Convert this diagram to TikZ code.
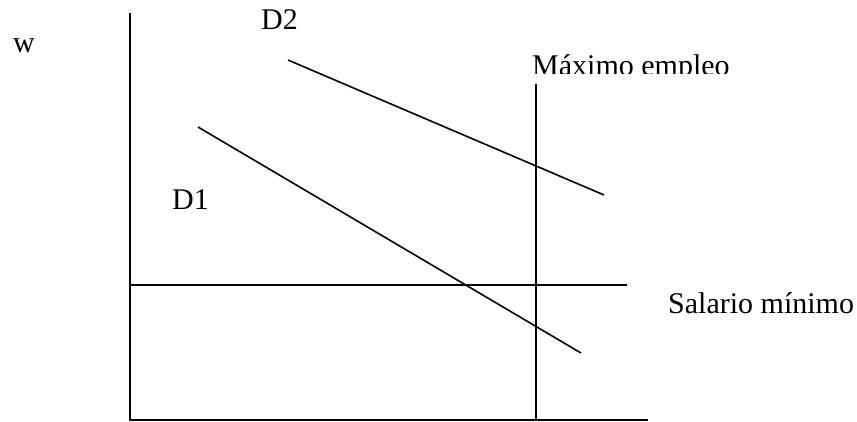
\documentclass[tikz,border=0pt]{standalone}
\usepackage{fontspec}
\setmainfont{Liberation Serif}
\begin{document}
\begin{tikzpicture}[x=1pt,y=-1pt,
  lbl/.style={anchor=base west,inner sep=0pt,font=\fontsize{30}{36}\selectfont},
  ln/.style={line width=1.6pt,black}]
\useasboundingbox (0,0) rectangle (857,421);
% axes
\coordinate (ytop) at (130,13);
\coordinate (orig) at (130,420);
\coordinate (xend) at (648,420);
\draw[ln] (ytop) -- (orig) -- (xend);
% minimum wage
\coordinate (sw1) at (130,285);
\coordinate (sw2) at (627,285);
\draw[ln] (sw1) -- (sw2);
% max employment
\coordinate (me1) at (536,84);
\coordinate (me2) at (536,420);
\draw[ln] (me1) -- (me2);
% demand curves
\coordinate (d2a) at (288,60);
\coordinate (d2b) at (604,195);
\draw[ln] (d2a) -- (d2b);
\coordinate (d1a) at (198,127);
\coordinate (d1b) at (581,353);
\draw[ln] (d1a) -- (d1b);
% labels
\node[lbl] (w) at (13,52) {w};
\node[lbl] (D2) at (261,29) {D2};
\node[lbl] (D1) at (172,209) {D1};
\node[lbl] (sal) at (668,313) {Salario mínimo};
\begin{scope}
\clip (500,0) rectangle (857,73);
\node[lbl] (max) at (532,75) {Máximo empleo};
\end{scope}
\end{tikzpicture}
\end{document}
